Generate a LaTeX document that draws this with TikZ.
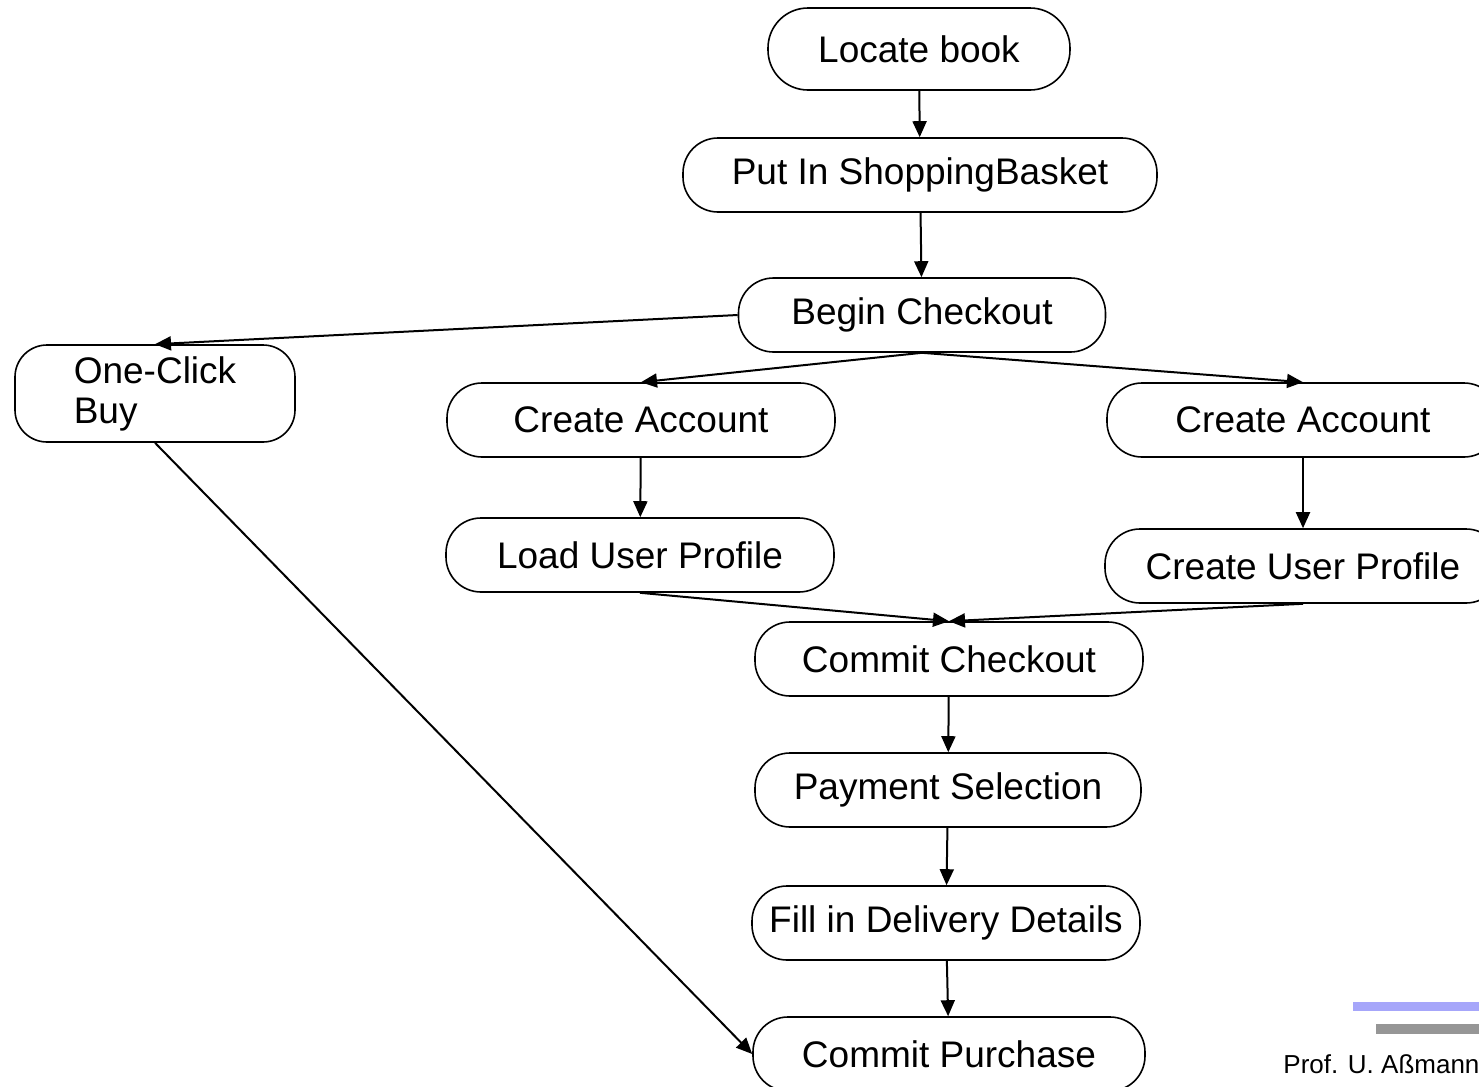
\documentclass[tikz,border=0pt]{standalone}
\usepackage{fontspec}
\setmainfont{Liberation Sans}
\usetikzlibrary{arrows.meta, calc}
\definecolor{barblue}{RGB}{166,166,250}
\definecolor{bargray}{RGB}{150,150,150}
\tikzset{
  act/.style={draw=black, line width=0.8pt, rounded corners=17.5pt, inner sep=0pt,
    minimum height=37pt, font=\fontsize{18.5}{20}\selectfont, align=center},
  flow/.style={draw=black, line width=1pt, -{Triangle[length=8pt, width=7pt]}},
}
\begin{document}
\begin{tikzpicture}[x=0.5pt, y=-0.5pt]
  \path[use as bounding box] (0,0) rectangle (1479,1087);
  \clip (0,0) rectangle (1479,1087);
     %top
     \node[act, minimum width=151pt, minimum height=41pt, rounded corners=20pt] (locate) at (919,49) {Locate book};
     \node[act, minimum width=237pt] (basket) at (920,175) {Put In ShoppingBasket};
     \node[act, minimum width=183.5pt] (begin) at (922,315) {Begin Checkout};
     %left branch
     \node[act, minimum width=140pt, minimum height=48.5pt, rounded corners=16pt, align=left] (oneclick) at (155,393.5) {One-Click\\Buy};
     %middle branch
     \node[act, minimum width=194pt] (accountL) at (641,420) {Create Account};
     \node[act, minimum width=194pt] (loadprofile) at (640,555) {Load User Profile};
     %right branch
     \node[act, minimum width=196pt] (accountR) at (1303,420) {Create Account};
     \node[act, minimum width=198pt] (newprofile) at (1303,566) {Create User Profile};
     %bottom
     \node[act, minimum width=194pt] (commit) at (949,659) {Commit Checkout};
     \node[act, minimum width=193pt] (payment) at (948,790) {Payment Selection};
     \node[act, minimum width=194pt] (delivery) at (946,923) {Fill in Delivery Details};
     \node[act, minimum width=196pt] (purchase) at (949,1054) {Commit Purchase};
     %edges
     \draw[flow] (locate) -- (basket);
     \draw[flow] (basket) -- (begin);
     \draw[flow] (begin.west) -- (oneclick.north);
     \draw[flow] (begin.south) -- (accountL.north);
     \draw[flow] (begin.south) -- (accountR.north);
     \draw[flow] (accountL) -- (loadprofile);
     \draw[flow] (accountR) -- (newprofile);
     \draw[flow] (loadprofile.south) -- (commit.north);
     \draw[flow] (newprofile.south) -- (commit.north);
     \draw[flow] (commit) -- (payment);
     \draw[flow] (payment) -- (delivery);
     \draw[flow] (delivery) -- (purchase);
     \draw[flow] (oneclick.south) -- (purchase.west);
     %footer
     \fill[barblue] (1353,1002) rectangle (1479,1011);
     \fill[bargray] (1376,1024) rectangle (1479,1034);
     \node[anchor=west, inner sep=0pt, font=\fontsize{13}{15}\selectfont] (author) at (1283,1064) {Prof. U. Aßmann};
\end{tikzpicture}
\end{document}
